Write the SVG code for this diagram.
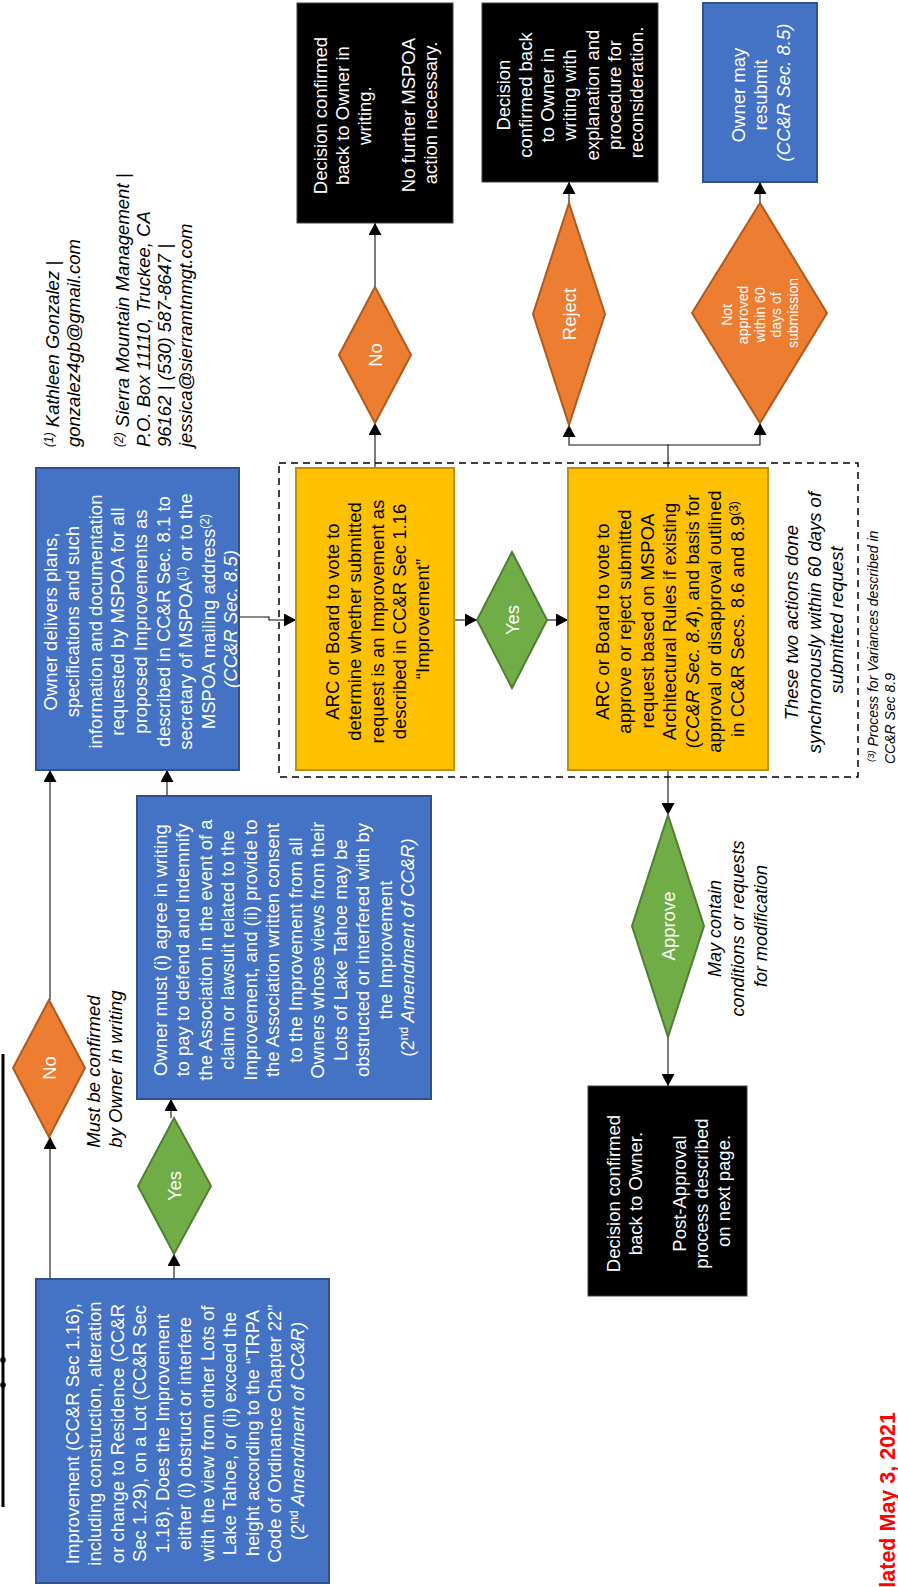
<svg xmlns="http://www.w3.org/2000/svg" width="898" height="1587" viewBox="0 0 898 1587">
<defs>
<style>
.bb{fill:#4472C4;stroke:#2F528F;stroke-width:2}
.by{fill:#FFC000;stroke:#BF9000;stroke-width:2}
.bk{fill:#000;stroke:#404040;stroke-width:1}
.dor{fill:#ED7D31;stroke:#AE5A21;stroke-width:2}
.dgr{fill:#70AD47;stroke:#507E32;stroke-width:2}
.t{font-family:"Liberation Sans",Arial,sans-serif;font-size:18.5px;text-anchor:middle}
.ts{font-family:"Liberation Sans",Arial,sans-serif;font-size:18.5px;text-anchor:start}
.w{fill:#fff}
.k{fill:#000}
.i{font-style:italic}
.conn{fill:none;stroke:#111;stroke-width:1.1}
</style>
<marker id="ah" markerUnits="userSpaceOnUse" markerWidth="13" markerHeight="13" refX="12" refY="6.5" orient="auto">
<path d="M0,0 L12,6.5 L0,13 z" fill="#000"/>
</marker>
</defs>
<rect width="898" height="1587" fill="#fff"/>

<line x1="3" y1="1054" x2="3" y2="1507" stroke="#000" stroke-width="3"/>
<circle cx="3" cy="1360" r="2.8" fill="#000"/>
<circle cx="3" cy="1385" r="2.8" fill="#000"/>

<g id="connectors">
<path class="conn" d="M50,1279 V1137" marker-end="url(#ah)"/>
<path class="conn" d="M50,1000 V770" marker-end="url(#ah)"/>
<path class="conn" d="M174,1279 V1254" marker-end="url(#ah)"/>
<path class="conn" d="M171,1118 V1099" marker-end="url(#ah)"/>
<path class="conn" d="M167,796 V770" marker-end="url(#ah)"/>
<path class="conn" d="M239,617 H269 V620 H296" marker-end="url(#ah)"/>
<path class="conn" d="M454,620 H477" marker-end="url(#ah)"/>
<path class="conn" d="M547,620 H568" marker-end="url(#ah)"/>
<path class="conn" d="M375,468 V423" marker-end="url(#ah)"/>
<path class="conn" d="M375,287 V223" marker-end="url(#ah)"/>
<path class="conn" d="M668,468 V445 H569 V425" marker-end="url(#ah)"/>
<path class="conn" d="M668,445 H760 V423" marker-end="url(#ah)"/>
<path class="conn" d="M569,203 V182" marker-end="url(#ah)"/>
<path class="conn" d="M760,203 V182" marker-end="url(#ah)"/>
<path class="conn" d="M668,770 V815" marker-end="url(#ah)"/>
<path class="conn" d="M668,1037 V1086" marker-end="url(#ah)"/>
</g>

<g id="group-sync">
<rect x="279" y="463" width="579" height="314" fill="none" stroke="#000" stroke-width="1.5" stroke-dasharray="7,5"/>
</g>

<g id="node-improvement">
<rect x="36" y="1279" width="293" height="304" class="bb"/>
<g transform="translate(182.5,1431) rotate(-90)">
<text class="t w">
<tspan x="0" y="-104">Improvement (CC&amp;R Sec 1.16),</tspan>
<tspan x="0" y="-81.5">including construction, alteration</tspan>
<tspan x="0" y="-59">or change to Residence (CC&amp;R</tspan>
<tspan x="0" y="-36.5">Sec 1.29), on a Lot (CC&amp;R Sec</tspan>
<tspan x="0" y="-14">1.18). Does the Improvement</tspan>
<tspan x="0" y="8.5">either (i) obstruct or interfere</tspan>
<tspan x="0" y="31">with the view from other Lots of</tspan>
<tspan x="0" y="53.5">Lake Tahoe, or (ii) exceed the</tspan>
<tspan x="0" y="76">height according to the “TRPA</tspan>
<tspan x="0" y="98.5">Code of Ordinance Chapter 22”</tspan>
<tspan x="0" y="121">(2<tspan dy="-6" font-size="12">nd</tspan><tspan dy="6" class="i"> Amendment of CC&amp;R)</tspan></tspan>
</text>
</g>
</g>

<g id="node-no-left">
<polygon points="49,1000 85,1068 49,1137 13,1068" class="dor"/>
<text class="t w" transform="translate(49,1068) rotate(-90)" x="0" y="6.5">No</text>
</g>

<g id="label-must-confirm">
<g transform="translate(104,1069) rotate(-90)">
<text class="t k i">
<tspan x="0" y="-4.5">Must be confirmed</tspan>
<tspan x="0" y="17.5">by Owner in writing</tspan>
</text>
</g>
</g>

<g id="node-yes-left">
<polygon points="174,1118 211,1186 174,1254 138,1186" class="dgr"/>
<text class="t w" transform="translate(174,1186) rotate(-90)" x="0" y="6.5">Yes</text>
</g>

<g id="node-owner-must">
<rect x="137" y="796" width="294" height="303" class="bb"/>
<g transform="translate(284,947.5) rotate(-90)">
<text class="t w">
<tspan x="0" y="-117.5">Owner must (i) agree in writing</tspan>
<tspan x="0" y="-95">to pay to defend and indemnify</tspan>
<tspan x="0" y="-72.5">the Association in the event of a</tspan>
<tspan x="0" y="-50">claim or lawsuit related to the</tspan>
<tspan x="0" y="-27.5">Improvement, and (ii) provide to</tspan>
<tspan x="0" y="-5">the Association written consent</tspan>
<tspan x="0" y="17.5">to the Improvement from all</tspan>
<tspan x="0" y="40">Owners whose views from their</tspan>
<tspan x="0" y="62.5">Lots of Lake Tahoe may be</tspan>
<tspan x="0" y="85">obstructed or interfered with by</tspan>
<tspan x="0" y="107.5">the Improvement</tspan>
<tspan x="0" y="130">(2<tspan dy="-6" font-size="12">nd</tspan><tspan dy="6" class="i"> Amendment of CC&amp;R)</tspan></tspan>
</text>
</g>
</g>

<g id="node-owner-delivers">
<rect x="36" y="468" width="203" height="302" class="bb"/>
<g transform="translate(137.5,619) rotate(-90)">
<text class="t w">
<tspan x="0" y="-81">Owner delivers plans,</tspan>
<tspan x="0" y="-58.4">specifications and such</tspan>
<tspan x="0" y="-35.8">information and documentation</tspan>
<tspan x="0" y="-13.2">requested by MSPOA for all</tspan>
<tspan x="0" y="9.4">proposed Improvements as</tspan>
<tspan x="0" y="32">described in CC&amp;R Sec. 8.1 to</tspan>
<tspan x="0" y="54.6">secretary of MSPOA<tspan dy="-6" font-size="12">(1)</tspan><tspan dy="6"> or to the</tspan></tspan>
<tspan x="0" y="77.2">MSPOA mailing address<tspan dy="-6" font-size="12">(2)</tspan></tspan>
<tspan x="0" y="99.8" class="i">(CC&amp;R Sec. 8.5)</tspan>
</text>
</g>
</g>

<g id="footnotes-top">
<g transform="translate(0,447) rotate(-90)">
<text class="ts k i">
<tspan x="0" y="58.5"><tspan font-size="12" dy="-6">(1)</tspan><tspan dy="6"> Kathleen Gonzalez |</tspan></tspan>
<tspan x="0" y="80">gonzalez4gb@gmail.com</tspan>
<tspan x="0" y="128.5"><tspan font-size="12" dy="-6">(2)</tspan><tspan dy="6"> Sierra Mountain Management |</tspan></tspan>
<tspan x="0" y="149.8">P.O. Box 11110, Truckee, CA</tspan>
<tspan x="0" y="171.1">96162 | (530) 587-8647 |</tspan>
<tspan x="0" y="192.4">jessica@sierramtnmgt.com</tspan>
</text>
</g>
</g>

<g id="node-arc-improvement">
<rect x="296" y="468" width="158" height="302" class="by"/>
<g transform="translate(375,619) rotate(-90)">
<text class="t k">
<tspan x="0" y="-36.5">ARC or Board to vote to</tspan>
<tspan x="0" y="-14">determine whether submitted</tspan>
<tspan x="0" y="8.5">request is an Improvement as</tspan>
<tspan x="0" y="31">described in CC&amp;R Sec 1.16</tspan>
<tspan x="0" y="53.5">“Improvement”</tspan>
</text>
</g>
</g>

<g id="node-no-mid">
<polygon points="375,287 411,355 375,423 339,355" class="dor"/>
<text class="t w" transform="translate(375,355) rotate(-90)" x="0" y="6.5">No</text>
</g>

<g id="node-decision-no">
<rect x="297" y="3" width="156" height="220" class="bk"/>
<g transform="translate(375,113) rotate(-90)">
<text class="t w">
<tspan x="0" y="-48.5">Decision confirmed</tspan>
<tspan x="0" y="-26.5">back to Owner in</tspan>
<tspan x="0" y="-4.5">writing.</tspan>
<tspan x="0" y="39.5">No further MSPOA</tspan>
<tspan x="0" y="61.5">action necessary.</tspan>
</text>
</g>
</g>

<g id="node-yes-mid">
<polygon points="512,552 547,620 512,688 477,620" class="dgr"/>
<text class="t w" transform="translate(512,620) rotate(-90)" x="0" y="6.5">Yes</text>
</g>

<g id="node-arc-approve">
<rect x="568" y="468" width="200" height="302" class="by"/>
<g transform="translate(668,619) rotate(-90)">
<text class="t k">
<tspan x="0" y="-59.5">ARC or Board to vote to</tspan>
<tspan x="0" y="-37">approve or reject submitted</tspan>
<tspan x="0" y="-14.5">request based on MSPOA</tspan>
<tspan x="0" y="8">Architectural Rules if existing</tspan>
<tspan x="0" y="30.5">(<tspan class="i">CC&amp;R Sec. 8.4</tspan>), and basis for</tspan>
<tspan x="0" y="53">approval or disapproval outlined</tspan>
<tspan x="0" y="75.5">in CC&amp;R Secs. 8.6 and 8.9<tspan dy="-6" font-size="12">(3)</tspan></tspan>
</text>
</g>
</g>

<g id="label-sync">
<g transform="translate(814,620) rotate(-90)">
<text class="t k i">
<tspan x="0" y="-16.5">These two actions done</tspan>
<tspan x="0" y="6.5">synchronously within 60 days of</tspan>
<tspan x="0" y="28.5">submitted request</tspan>
</text>
</g>
</g>

<g id="footnote-3">
<g transform="translate(0,762) rotate(-90)">
<text class="ts k i" style="font-size:14px">
<tspan x="0" y="878"><tspan font-size="9.5" dy="-4.5">(3)</tspan><tspan dy="4.5"> Process for Variances described in</tspan></tspan>
<tspan x="-2" y="895">CC&amp;R Sec 8.9</tspan>
</text>
</g>
</g>

<g id="node-reject">
<polygon points="569,203 605,314 569,425 533,314" class="dor"/>
<text class="t w" transform="translate(569,314) rotate(-90)" x="0" y="6.5">Reject</text>
</g>

<g id="node-decision-reject">
<rect x="482" y="3" width="176" height="179" class="bk"/>
<g transform="translate(570,92.5) rotate(-90)">
<text class="t w">
<tspan x="0" y="-60.5">Decision</tspan>
<tspan x="0" y="-38.2">confirmed back</tspan>
<tspan x="0" y="-15.9">to Owner in</tspan>
<tspan x="0" y="6.4">writing with</tspan>
<tspan x="0" y="28.7">explanation and</tspan>
<tspan x="0" y="51">procedure for</tspan>
<tspan x="0" y="73.3">reconsideration.</tspan>
</text>
</g>
</g>

<g id="node-not-approved">
<polygon points="760,203 827,313 760,423 692,313" class="dor"/>
<g transform="translate(760,313) rotate(-90)">
<text class="t w" style="font-size:14px">
<tspan x="0" y="-28">Not</tspan>
<tspan x="0" y="-11.6">approved</tspan>
<tspan x="0" y="4.8">within 60</tspan>
<tspan x="0" y="21.2">days of</tspan>
<tspan x="0" y="37.6">submission</tspan>
</text>
</g>
</g>

<g id="node-resubmit">
<rect x="703" y="3" width="114" height="179" class="bb"/>
<g transform="translate(760,92.5) rotate(-90)">
<text class="t w">
<tspan x="0" y="-15.5">Owner may</tspan>
<tspan x="0" y="7">resubmit</tspan>
<tspan x="0" y="29.5" class="i">(CC&amp;R Sec. 8.5)</tspan>
</text>
</g>
</g>

<g id="node-approve">
<polygon points="668,815 704,926 668,1037 632,926" class="dgr"/>
<text class="t w" transform="translate(668,926) rotate(-90)" x="0" y="6.5">Approve</text>
</g>

<g id="label-may-contain">
<g transform="translate(737,926) rotate(-90)">
<text class="t k i" style="font-size:18px">
<tspan x="0" y="-16.5">May contain</tspan>
<tspan x="0" y="6.5">conditions or requests</tspan>
<tspan x="0" y="29.5">for modification</tspan>
</text>
</g>
</g>

<g id="node-decision-approve">
<rect x="588" y="1086" width="159" height="210" class="bk"/>
<g transform="translate(667.5,1191) rotate(-90)">
<text class="t w">
<tspan x="0" y="-48">Decision confirmed</tspan>
<tspan x="0" y="-26">back to Owner.</tspan>
<tspan x="0" y="18">Post-Approval</tspan>
<tspan x="0" y="40">process described</tspan>
<tspan x="0" y="62">on next page.</tspan>
</text>
</g>
</g>

<g id="label-date">
<text transform="translate(895,1412) rotate(-90)" x="0" y="0" style="font-family:'Liberation Sans',Arial,sans-serif;font-size:21.5px;font-weight:bold;fill:#FF0000;text-anchor:end">lated May 3, 2021</text>
</g>
</svg>
